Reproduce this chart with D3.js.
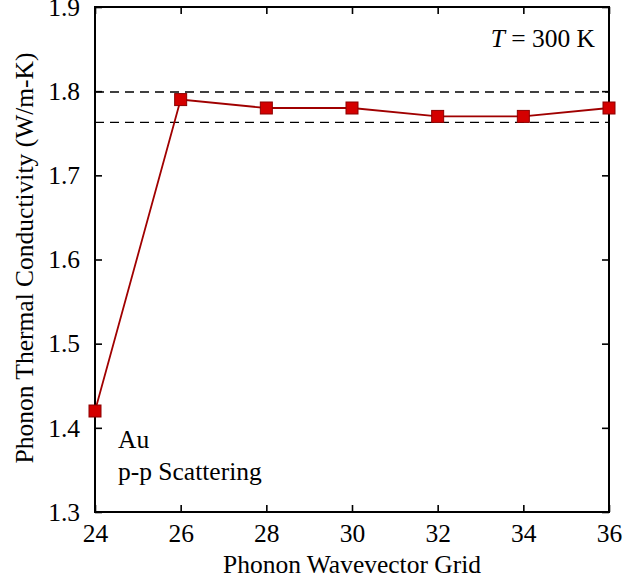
<!DOCTYPE html>
<html>
<head>
<meta charset="utf-8">
<script src="https://cdn.jsdelivr.net/npm/d3@7"></script>
<style>
  body { margin: 0; background: #fff; }
  svg { display: block; }
</style>
</head>
<body>
<svg id="chart" width="624" height="581"></svg>
<script>
/* ================================
   DATA
================================ */

const grids = [24, 26, 28, 30, 32, 34, 36];
const kappa = [1.42, 1.79, 1.78, 1.78, 1.77, 1.77, 1.78];
const bandLines = [1.799, 1.763];
const xTicks = [24, 26, 28, 30, 32, 34, 36];
const yTicks = [1.3, 1.4, 1.5, 1.6, 1.7, 1.8, 1.9];

/* ================================
   CHART
================================ */

(function() {

  const svg = d3.select("#chart");
  const pLeft = 95, pRight = 609, pTop = 7, pBottom = 512;

  const x = d3.scaleLinear().domain([24, 36]).range([pLeft, pRight]);
  const y = d3.scaleLinear().domain([1.3, 1.9]).range([pBottom, pTop]);

  const tickLen = 7;
  const font = "'Liberation Serif', 'Times New Roman', serif";
  const fontSize = 25.5;

  // dashed reference lines
  svg.append("g")
    .selectAll("line")
    .data(bandLines)
    .join("line")
    .attr("x1", pLeft)
    .attr("x2", pRight)
    .attr("y1", d => y(d))
    .attr("y2", d => y(d))
    .attr("stroke", "#000")
    .attr("stroke-width", 1.3)
    .attr("stroke-dasharray", "9 6");

  // axes, ticks inward on all four sides
  const axB = svg.append("g").attr("transform", `translate(0,${pBottom})`)
    .call(d3.axisBottom(x).tickValues(xTicks).tickSizeInner(-tickLen).tickSizeOuter(0).tickPadding(12));
  const axT = svg.append("g").attr("transform", `translate(0,${pTop})`)
    .call(d3.axisTop(x).tickValues(xTicks).tickSizeInner(-tickLen).tickSizeOuter(0).tickFormat(""));
  const axL = svg.append("g").attr("transform", `translate(${pLeft},0)`)
    .call(d3.axisLeft(y).tickValues(yTicks).tickSizeInner(-tickLen).tickSizeOuter(0).tickPadding(15).tickFormat(d3.format(".1f")));
  const axR = svg.append("g").attr("transform", `translate(${pRight},0)`)
    .call(d3.axisRight(y).tickValues(yTicks).tickSizeInner(-tickLen).tickSizeOuter(0).tickFormat(""));

  [axB, axT, axL, axR].forEach(g => {
    g.attr("font-family", font).attr("font-size", fontSize);
    g.select(".domain").remove();
    g.selectAll(".tick line").attr("stroke", "#000").attr("stroke-width", 1.6);
    g.selectAll("text").attr("fill", "#000");
  });

  // frame
  svg.append("rect")
    .attr("x", pLeft)
    .attr("y", pTop)
    .attr("width", pRight - pLeft)
    .attr("height", pBottom - pTop)
    .attr("fill", "none")
    .attr("stroke", "#000")
    .attr("stroke-width", 2);

  // data line
  const pts = grids.map((g, i) => [g, kappa[i]]);

  svg.append("path")
    .datum(pts)
    .attr("d", d3.line().x(d => x(d[0])).y(d => y(d[1])))
    .attr("fill", "none")
    .attr("stroke", "#a00000")
    .attr("stroke-width", 1.8);

  const m = 12;
  svg.append("g")
    .selectAll("rect")
    .data(pts)
    .join("rect")
    .attr("x", d => x(d[0]) - m / 2)
    .attr("y", d => y(d[1]) - m / 2)
    .attr("width", m)
    .attr("height", m)
    .attr("fill", "#d40000")
    .attr("stroke", "#8b0000")
    .attr("stroke-width", 1);

  // labels
  const label = (xp, yp, anchor) => svg.append("text")
    .attr("x", xp)
    .attr("y", yp)
    .attr("text-anchor", anchor)
    .attr("font-family", font)
    .attr("font-size", fontSize)
    .attr("fill", "#000");

  label((pLeft + pRight) / 2, 573, "middle").text("Phonon Wavevector Grid");

  label(0, 0, "middle")
    .attr("transform", `translate(33,258) rotate(-90)`)
    .text("Phonon Thermal Conductivity (W/m-K)");

  const tLabel = label(595, 47, "end");
  tLabel.append("tspan").attr("font-style", "italic").text("T");
  tLabel.append("tspan").text(" = 300 K");

  label(118, 448, "start").text("Au");
  label(118, 480, "start").text("p-p Scattering");

})();
</script>
</body>
</html>
